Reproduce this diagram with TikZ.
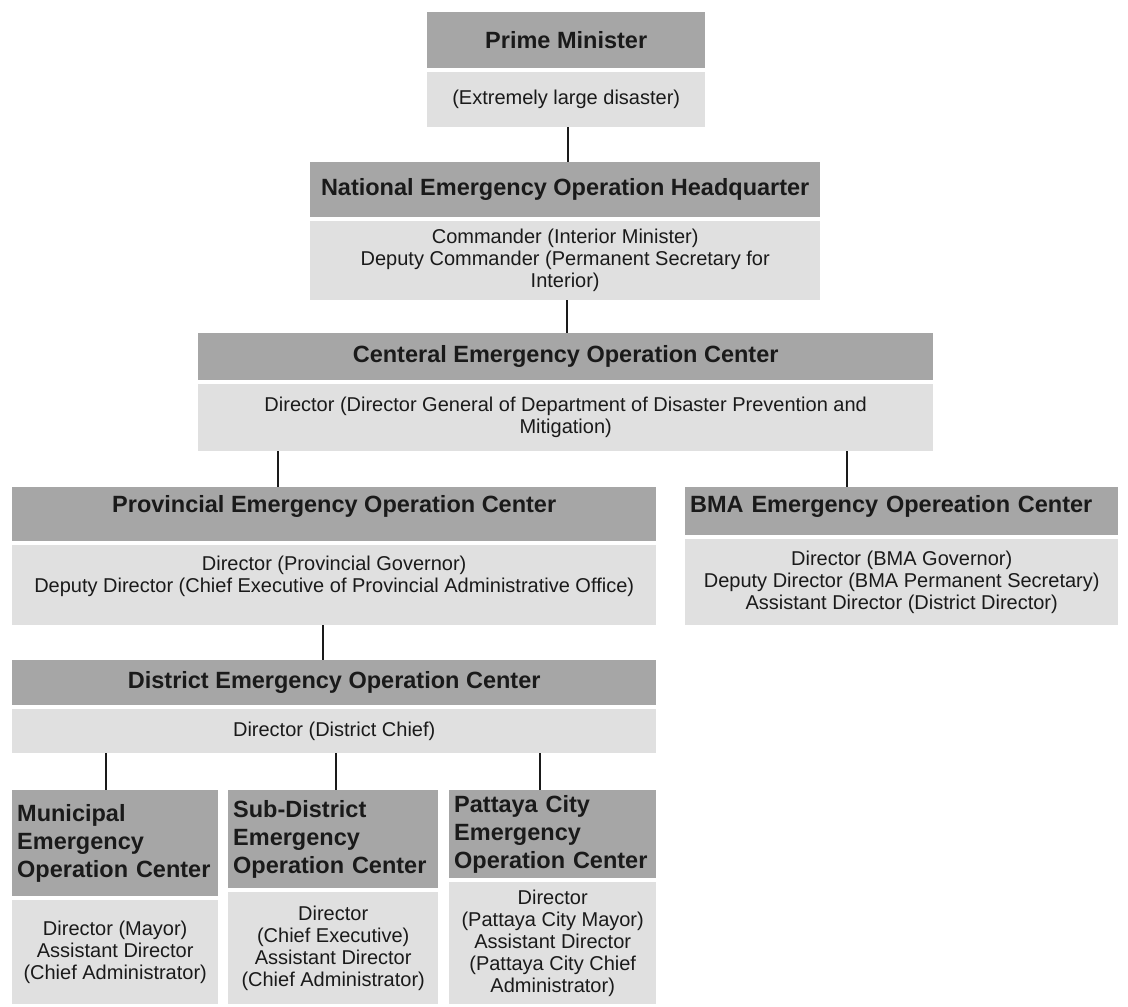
\documentclass[tikz,border=0pt]{standalone}
\usepackage{fontspec}
\setmainfont{Liberation Sans}
\usetikzlibrary{positioning}
\definecolor{headgray}{HTML}{A6A6A6}
\definecolor{bodygray}{HTML}{E0E0E0}
\definecolor{ink}{HTML}{1A1A1A}

\begin{document}
\begin{tikzpicture}[x=1pt,y=-1pt,
    box/.style={anchor=north west,inner xsep=6pt,inner ysep=2pt,text=ink},
    head/.style={box,fill=headgray,font=\bfseries\fontsize{23.5}{28}\selectfont,align=center},
    body/.style={box,fill=bodygray,font=\fontsize{20}{22}\selectfont,align=center},
    lefthead/.style={head,inner xsep=5pt,align=left},
    link/.style={line width=1.4pt,ink}]
   \useasboundingbox (0,0) rectangle (1128,1007);

   \node[head,minimum width=278,minimum height=56] (pmh) at (427,12) {Prime Minister};
   \node[body,minimum width=278,minimum height=55] (pmb) at (427,72) {(Extremely large disaster)};

   \node[head,minimum width=510,minimum height=55] (neoh) at (310,162) {National Emergency Operation Headquarter};
   \node[body,minimum width=510,minimum height=79] (neob) at (310,221)
      {Commander (Interior Minister)\\Deputy Commander (Permanent Secretary for\\Interior)};

   \node[head,minimum width=735,minimum height=47] (ceoch) at (198,333) {Centeral Emergency Operation Center};
   \node[body,minimum width=735,minimum height=67] (ceocb) at (198,384)
      {Director (Director General of Department of Disaster Prevention and\\Mitigation)};

   \node[head,minimum width=644,minimum height=54] (peoch) at (12,487) {Provincial Emergency Operation Center\\[-7pt]\mbox{}};
   \node[body,minimum width=644,minimum height=80] (peocb) at (12,545)
      {Director (Provincial Governor)\\Deputy Director (Chief Executive of Provincial Administrative Office)\\\mbox{}};

   \node[lefthead,text width=423,minimum height=48] (bmah) at (685,487) {BMA Emergency Opereation Center\\[-14pt]\mbox{}};
   \node[body,minimum width=433,minimum height=86] (bmab) at (685,539)
      {Director (BMA Governor)\\Deputy Director (BMA Permanent Secretary)\\Assistant Director (District Director)};

   \node[head,minimum width=644,minimum height=45] (deoch) at (12,660) {District Emergency Operation Center};
   \node[body,minimum width=644,minimum height=44] (deocb) at (12,709) {Director (District Chief)};

   \node[lefthead,text width=196,minimum height=106] (meoch) at (12,790) {Municipal\\Emergency\\Operation Center};
   \node[body,minimum width=206,minimum height=104] (meocb) at (12,900)
      {Director (Mayor)\\Assistant Director\\(Chief Administrator)};

   \node[lefthead,text width=200,minimum height=98] (seoch) at (228,790) {Sub-District\\Emergency\\Operation Center};
   \node[body,minimum width=210,minimum height=112] (seocb) at (228,892)
      {Director\\(Chief Executive)\\Assistant Director\\(Chief Administrator)};

   \node[lefthead,text width=197,minimum height=88] (pceoch) at (449,790) {Pattaya City\\Emergency\\Operation Center};
   \node[body,minimum width=207,minimum height=122] (pceocb) at (449,882)
      {Director\\(Pattaya City Mayor)\\Assistant Director\\(Pattaya City Chief\\Administrator)};

   % reporting lines
   \draw[link] (pmb.south -| 568,0) -- (neoh.north -| 568,0);
   \draw[link] (neob.south -| 567,0) -- (ceoch.north -| 567,0);
   \draw[link] (ceocb.south -| 278,0) -- (peoch.north -| 278,0);
   \draw[link] (ceocb.south -| 847,0) -- (bmah.north -| 847,0);
   \draw[link] (peocb.south -| 323,0) -- (deoch.north -| 323,0);
   \draw[link] (deocb.south -| 106,0) -- (meoch.north -| 106,0);
   \draw[link] (deocb.south -| 336,0) -- (seoch.north -| 336,0);
   \draw[link] (deocb.south -| 540,0) -- (pceoch.north -| 540,0);
\end{tikzpicture}
\end{document}
